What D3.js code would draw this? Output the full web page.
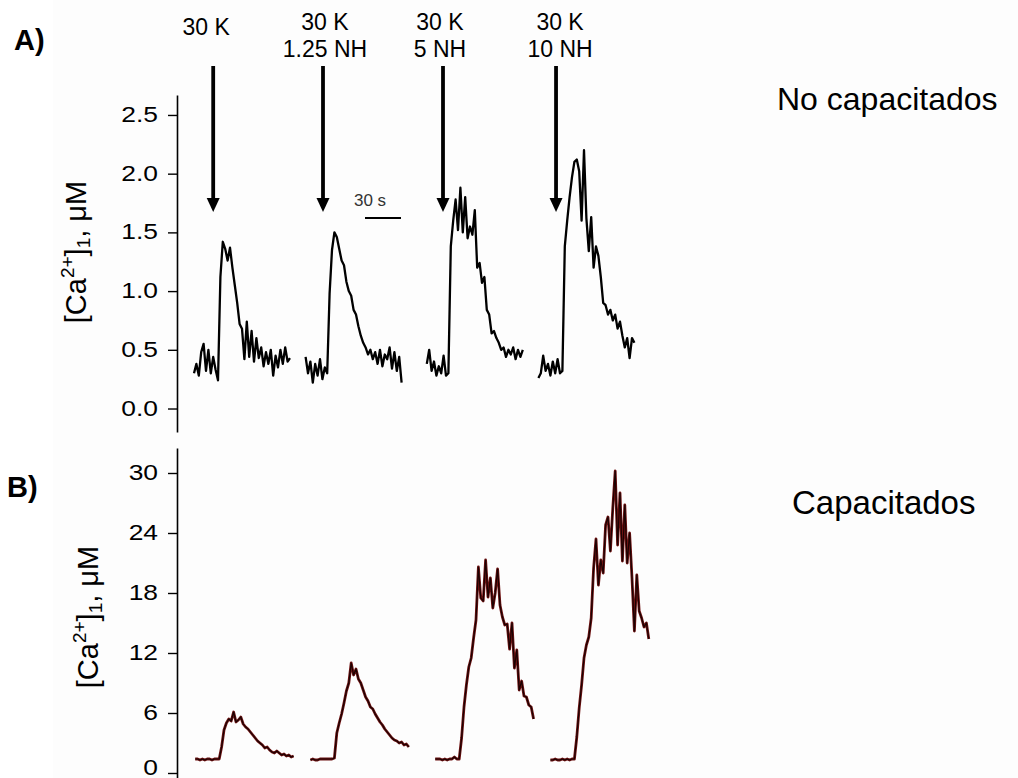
<!DOCTYPE html>
<html><head><meta charset="utf-8">
<script src="https://cdn.jsdelivr.net/npm/d3@7"></script>
<style>html,body{margin:0;padding:0;background:#fff;}svg{display:block;}</style>
</head><body>
<svg id="chart" width="1018" height="778"></svg>
<script>
// ---------------- data ----------------
const timeStep = 2; // seconds between samples
const startA = [0, 93, 194, 287];
const startB = [1, 97, 201, 297];
const arrowTimes = [16, 107.5, 207.5, 301.7];
const arrowLabels = [["30 K"], ["30 K", "1.25 NH"], ["30 K", "5 NH"], ["30 K", "10 NH"]];
const ticksA = [0, 0.5, 1.0, 1.5, 2.0, 2.5];
const ticksB = [0, 6, 12, 18, 24, 30];
const scaleBarStart = 142.5, scaleBarSeconds = 30;
const panelTitles = ["No capacitados", "Capacitados"];

const traceA1 = [0.30,0.38,0.28,0.48,0.55,0.32,0.50,0.30,0.44,0.33,0.24,1.12,1.42,1.36,1.26,1.37,1.20,1.05,0.90,0.72,0.68,0.42,0.74,0.44,0.66,0.40,0.60,0.43,0.52,0.36,0.48,0.38,0.50,0.28,0.45,0.35,0.50,0.38,0.52,0.40,0.43];
const traceA2 = [0.44,0.30,0.40,0.22,0.38,0.28,0.42,0.25,0.35,0.30,0.98,1.35,1.50,1.46,1.36,1.26,1.22,1.08,1.00,0.96,0.84,0.80,0.70,0.62,0.56,0.52,0.46,0.50,0.42,0.48,0.38,0.50,0.36,0.46,0.42,0.52,0.34,0.48,0.32,0.44,0.22];
const traceA3 = [0.38,0.50,0.32,0.40,0.28,0.36,0.30,0.45,0.28,0.30,1.38,1.60,1.78,1.52,1.88,1.50,1.80,1.45,1.55,1.48,1.69,1.20,1.24,1.07,1.12,0.84,0.80,0.64,0.66,0.60,0.56,0.50,0.52,0.44,0.50,0.46,0.52,0.42,0.50,0.44,0.50];
const traceA4 = [0.26,0.30,0.45,0.32,0.38,0.28,0.40,0.30,0.42,0.30,0.32,1.38,1.60,1.80,1.97,2.10,2.12,2.02,1.60,2.20,1.62,1.34,1.63,1.20,1.38,1.30,1.12,0.90,0.88,0.80,0.84,0.75,0.80,0.68,0.74,0.62,0.52,0.60,0.43,0.60,0.56];

const traceB1 = [1.4,1.4,1.3,1.4,1.3,1.4,1.4,1.3,1.4,1.4,1.4,2.6,4.3,5.0,5.4,5.2,6.1,5.1,5.3,5.6,4.9,4.6,4.4,4.1,3.8,3.5,3.2,3.0,2.8,2.5,2.6,2.3,2.1,2.0,2.2,2.0,1.8,1.9,1.7,1.8,1.6,1.7];
const traceB2 = [1.3,1.4,1.3,1.3,1.4,1.4,1.4,1.4,1.4,1.4,1.5,4.0,5.0,5.9,7.0,8.2,9.0,11.0,9.8,10.4,9.4,9.0,8.3,7.6,7.2,6.6,6.4,5.9,5.5,5.1,4.8,4.4,4.1,3.8,3.5,3.3,3.2,3.0,3.1,2.8,2.9,2.6];
const traceB3 = [1.4,1.4,1.4,1.3,1.4,1.3,1.4,1.4,1.6,1.4,1.4,3.5,6.6,8.8,10.6,11.5,13.5,15.3,20.6,17.5,17.2,21.3,17.6,19.5,16.5,18.0,20.4,16.8,15.6,14.8,14.9,12.4,15.0,10.5,12.3,8.3,9.2,7.7,7.6,6.8,6.6,5.4];
const traceB4 = [1.3,1.3,1.4,1.3,1.3,1.4,1.3,1.4,1.3,1.4,1.4,3.6,6.5,8.8,11.5,12.8,13.6,15.5,20.5,23.4,18.8,21.3,20.0,24.8,25.6,22.2,26.5,30.2,22.8,28.0,21.2,26.8,21.0,24.0,19.5,14.2,19.8,16.2,15.5,14.6,15.0,13.4];

const tracesA = [traceA1, traceA2, traceA3, traceA4];
const tracesB = [traceB1, traceB2, traceB3, traceB4];

// ---------------- layout ----------------
const font = "'Liberation Sans', Arial, Helvetica, sans-serif";
const svg = d3.select("#chart");
svg.append("rect").attr("x", 53).attr("y", 0).attr("width", 965).attr("height", 778).attr("fill", "#fdfdfd");

const x = d3.scaleLinear().domain([0, 400]).range([194, 674]);
const yA = d3.scaleLinear().domain([-0.2, 2.67]).range([432, 95]);
const yB = d3.scaleLinear().domain([-0.5, 32.5]).range([778, 448]);
const axisX = 177;
const stretch = 1.2;

function drawAxis(scale, ticks, fmt) {
  const g = svg.append("g").attr("transform", `translate(${axisX},0)`)
    .call(d3.axisLeft(scale).tickValues(ticks).tickFormat(fmt).tickSize(9).tickSizeOuter(0).tickPadding(10));
  g.select(".domain").attr("stroke", "#000").attr("stroke-width", 1.6);
  g.selectAll(".tick line").attr("stroke", "#000").attr("stroke-width", 1.4);
  g.selectAll(".tick text")
    .attr("font-family", font).attr("font-size", 22).attr("fill", "#000")
    .attr("dy", "0.3em")
    .attr("x", -19 / stretch).attr("transform", `scale(${stretch},1)`);
  return g;
}
drawAxis(yA, ticksA, d3.format(".1f"));
const gB = drawAxis(yB, ticksB, d3.format("d"));
// keep the bottom label inside the picture
gB.selectAll(".tick text").filter(d => d === 0).attr("dy", "0.05em");

// y labels
function yLabel(cx, cy) {
  const t = svg.append("text").attr("transform", `translate(${cx},${cy}) rotate(-90)`)
    .attr("text-anchor", "middle").attr("font-family", font).attr("font-size", 29).attr("fill", "#000");
  t.append("tspan").text("[Ca");
  t.append("tspan").attr("font-size", 19).attr("dy", -12).text("2+");
  t.append("tspan").attr("dy", 12).text("]");
  t.append("tspan").attr("font-size", 19).attr("dy", 4).text("1");
  t.append("tspan").attr("dy", -4).text(", \u03BCM");
}
yLabel(86, 252);
yLabel(98, 617);

// panel letters
svg.append("text").attr("x", 14).attr("y", 50).attr("font-family", font).attr("font-weight", "bold").attr("font-size", 29).text("A)");
svg.append("text").attr("x", 7).attr("y", 497).attr("font-family", font).attr("font-weight", "bold").attr("font-size", 29).text("B)");

// titles
svg.append("text").attr("x", 777).attr("y", 110).attr("font-family", font).attr("font-size", 32).text(panelTitles[0]);
svg.append("text").attr("x", 792).attr("y", 514).attr("font-family", font).attr("font-size", 33).text(panelTitles[1]);

// traces
const lineA = (start) => d3.line().x((d, i) => x(start + i * timeStep)).y(d => yA(d));
const lineB = (start) => d3.line().x((d, i) => x(start + i * timeStep)).y(d => yB(d));
tracesA.forEach((tr, k) => {
  svg.append("path").attr("d", lineA(startA[k])(tr)).attr("fill", "none")
    .attr("stroke", "#000").attr("stroke-width", 2.3).attr("stroke-linejoin", "round");
});
tracesB.forEach((tr, k) => {
  svg.append("path").attr("d", lineB(startB[k])(tr)).attr("fill", "none")
    .attr("stroke", "#6e1212").attr("stroke-width", 2.8).attr("stroke-linejoin", "round");
  svg.append("path").attr("d", lineB(startB[k])(tr)).attr("fill", "none")
    .attr("stroke", "#1a0202").attr("stroke-width", 1.2).attr("stroke-linejoin", "round");
});

// arrows and labels
const labelOffsets = [-7, 2, -3, 4];
arrowTimes.forEach((t, k) => {
  const ax = x(t);
  svg.append("line").attr("x1", ax).attr("x2", ax).attr("y1", 66).attr("y2", 200)
    .attr("stroke", "#000").attr("stroke-width", 3.8);
  svg.append("path").attr("d", `M${ax - 6.5},${198} L${ax + 6.5},${198} L${ax},${212} Z`).attr("fill", "#000");
  const lines = arrowLabels[k];
  const base = lines.length === 1 ? [35] : [30, 57];
  lines.forEach((s, j) => {
    svg.append("text").attr("x", ax + labelOffsets[k]).attr("y", base[j]).attr("text-anchor", "middle")
      .attr("font-family", font).attr("font-size", 23).attr("fill", "#000").text(s);
  });
});

// scale bar
svg.append("line").attr("x1", x(scaleBarStart)).attr("x2", x(scaleBarStart + scaleBarSeconds))
  .attr("y1", 218).attr("y2", 218).attr("stroke", "#000").attr("stroke-width", 1.8);
svg.append("text").attr("x", 370).attr("y", 206).attr("text-anchor", "middle")
  .attr("font-family", font).attr("font-size", 17).attr("fill", "#333").text(scaleBarSeconds + " s");
</script>
</body></html>
